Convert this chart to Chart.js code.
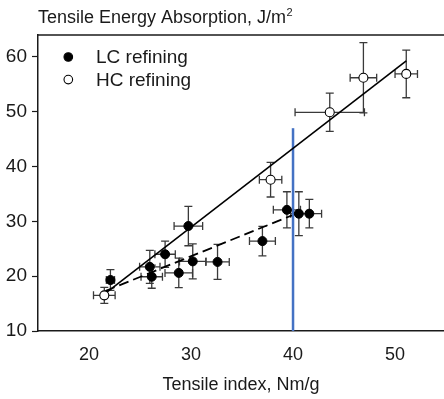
<!DOCTYPE html>
<html>
<head>
<meta charset="utf-8">
<script src="https://cdn.jsdelivr.net/npm/chart.js@4.4.1/dist/chart.umd.min.js"></script>
<style>
    html, body { margin: 0; padding: 0; background: #fff; }
    #grafico { display: block; }
</style>
</head>
<body>
<canvas id="grafico" width="444" height="399"></canvas>
<script>
// ---- data ----
const lcX    = [22.1, 25.96, 26.15, 27.46, 28.8, 29.74, 30.17, 32.6, 37.0, 39.4, 40.57, 41.6];
const lcY    = [19.3, 21.7, 19.9, 24.0, 20.6, 29.15, 22.7, 22.6, 26.4, 32.1, 31.4, 31.4];
const lcXErr = [0.4, 1.0, 1.05, 1.0, 1.35, 1.4, 1.3, 1.15, 1.27, 1.33, 0.8, 1.2];
const lcYErr = [1.9, 3.0, 2.1, 2.4, 2.7, 3.6, 3.2, 3.2, 2.7, 3.3, 4.0, 2.6];

const hcX    = [21.5, 37.8, 43.6, 46.9, 51.1];
const hcY    = [16.5, 37.6, 49.9, 56.2, 56.9];
const hcXErr = [1.06, 1.1, 3.4, 1.3, 1.1];
const hcYErr = [1.45, 3.15, 3.5, 6.4, 4.35];

// fitted lines (end points)
const hcFitX = [21.6, 51.1];
const hcFitY = [16.85, 59.3];
const lcFitX = [21.6, 39.9];
const lcFitY = [17.3, 31.1];

// vertical reference line
const refX = [40, 40];
const refY = [10, 47];

const xTicks = [20, 30, 40, 50];
const yTicks = [10, 20, 30, 40, 50, 60];

const tituloY = 'Tensile Energy Absorption, J/m';
const tituloX = 'Tensile index, Nm/g';
const etiquetas = ['LC refining', 'HC refining'];

const FUENTE = '"Liberation Sans", Arial, sans-serif';
const TINTA = '#1a1a1a';

const toPts = (xs, ys) => xs.map((x, i) => ({ x, y: ys[i] }));

// error bars, title and legend
const extras = {
    id: 'extras',
    beforeDatasetsDraw(chart) {
        const { ctx, scales: { x, y } } = chart;
        const cap = 4;
        const series = [[lcX, lcY, lcXErr, lcYErr], [hcX, hcY, hcXErr, hcYErr]];
        ctx.save();
        ctx.strokeStyle = '#3a3a3a';
        ctx.lineWidth = 1.3;
        series.forEach(([xs, ys, xe, ye]) => {
            xs.forEach((v, i) => {
                const px = x.getPixelForValue(v), py = y.getPixelForValue(ys[i]);
                const x0 = x.getPixelForValue(v - xe[i]), x1 = x.getPixelForValue(v + xe[i]);
                const y0 = y.getPixelForValue(ys[i] - ye[i]), y1 = y.getPixelForValue(ys[i] + ye[i]);
                ctx.beginPath();
                ctx.moveTo(x0, py); ctx.lineTo(x1, py);
                ctx.moveTo(x0, py - cap); ctx.lineTo(x0, py + cap);
                ctx.moveTo(x1, py - cap); ctx.lineTo(x1, py + cap);
                ctx.moveTo(px, y0); ctx.lineTo(px, y1);
                ctx.moveTo(px - cap, y0); ctx.lineTo(px + cap, y0);
                ctx.moveTo(px - cap, y1); ctx.lineTo(px + cap, y1);
                ctx.stroke();
            });
        });
        ctx.restore();
    },
    afterDraw(chart) {
        const { ctx, chartArea: a } = chart;
        ctx.save();
        // top frame line
        ctx.strokeStyle = TINTA;
        ctx.lineWidth = 1.5;
        ctx.beginPath();
        ctx.moveTo(a.left, a.top);
        ctx.lineTo(a.right, a.top);
        ctx.stroke();

        // title
        ctx.fillStyle = TINTA;
        ctx.textBaseline = 'alphabetic';
        ctx.textAlign = 'left';
        ctx.font = '18px ' + FUENTE;
        ctx.fillText(tituloY, a.left, 23);
        const w = ctx.measureText(tituloY).width;
        ctx.font = '11px ' + FUENTE;
        ctx.fillText('2', a.left + w + 0.5, 16);

        // legend
        ctx.font = '19px ' + FUENTE;
        ctx.textBaseline = 'middle';
        [0, 1].forEach(i => {
            const ds = chart.data.datasets[i];
            const cy = 57 + i * 22.6;
            ctx.beginPath();
            ctx.arc(68.3, cy, 4.3, 0, Math.PI * 2);
            ctx.fillStyle = ds.pointBackgroundColor;
            ctx.fill();
            ctx.lineWidth = 1.1;
            ctx.strokeStyle = ds.pointBorderColor;
            ctx.stroke();
            ctx.fillStyle = TINTA;
            ctx.fillText(etiquetas[i], 96, cy + 1);
        });
        ctx.restore();
    }
};

new Chart(document.getElementById('grafico'), {
    type: 'scatter',
    data: {
        datasets: [
            {
                label: etiquetas[0], data: toPts(lcX, lcY),
                pointRadius: 4.5, pointBackgroundColor: '#000', pointBorderColor: '#000', pointBorderWidth: 1
            },
            {
                label: etiquetas[1], data: toPts(hcX, hcY),
                pointRadius: 4.5, pointBackgroundColor: '#fff', pointBorderColor: '#000', pointBorderWidth: 1.1
            },
            {
                type: 'line', data: toPts(hcFitX, hcFitY),
                borderColor: '#000', borderWidth: 1.6, pointRadius: 0, fill: false
            },
            {
                type: 'line', data: toPts(lcFitX, lcFitY),
                borderColor: '#000', borderWidth: 1.8, borderDash: [10, 5], pointRadius: 0, fill: false
            },
            {
                type: 'line', data: toPts(refX, refY),
                borderColor: '#4472c4', borderWidth: 2.5, pointRadius: 0, fill: false
            }
        ]
    },
    options: {
        responsive: false,
        animation: false,
        devicePixelRatio: 1,
        layout: { autoPadding: false, padding: { top: 35, left: 0, right: 0, bottom: 0 } },
        plugins: { legend: { display: false }, tooltip: { enabled: false } },
        scales: {
            x: {
                type: 'linear', min: 15, max: 54.8,
                afterBuildTicks: s => { s.ticks = xTicks.map(v => ({ value: v })); },
                afterFit: s => { s.height = 68; },
                grid: { drawOnChartArea: false, drawTicks: false },
                border: { color: TINTA, width: 1.5 },
                ticks: { color: TINTA, font: { family: FUENTE, size: 18 }, padding: 13 },
                title: { display: true, text: tituloX, color: TINTA, font: { family: FUENTE, size: 18 }, padding: { top: 0, bottom: 3 } }
            },
            y: {
                type: 'linear', min: 10, max: 64,
                afterBuildTicks: s => { s.ticks = yTicks.map(v => ({ value: v })); },
                afterFit: s => { s.width = 38; },
                grid: { drawOnChartArea: false, tickLength: 6, color: TINTA, tickWidth: 1.2 },
                border: { color: TINTA, width: 1.5 },
                ticks: { color: TINTA, font: { family: FUENTE, size: 19 }, padding: 5 }
            }
        }
    },
    plugins: [extras]
});
</script>
</body>
</html>
